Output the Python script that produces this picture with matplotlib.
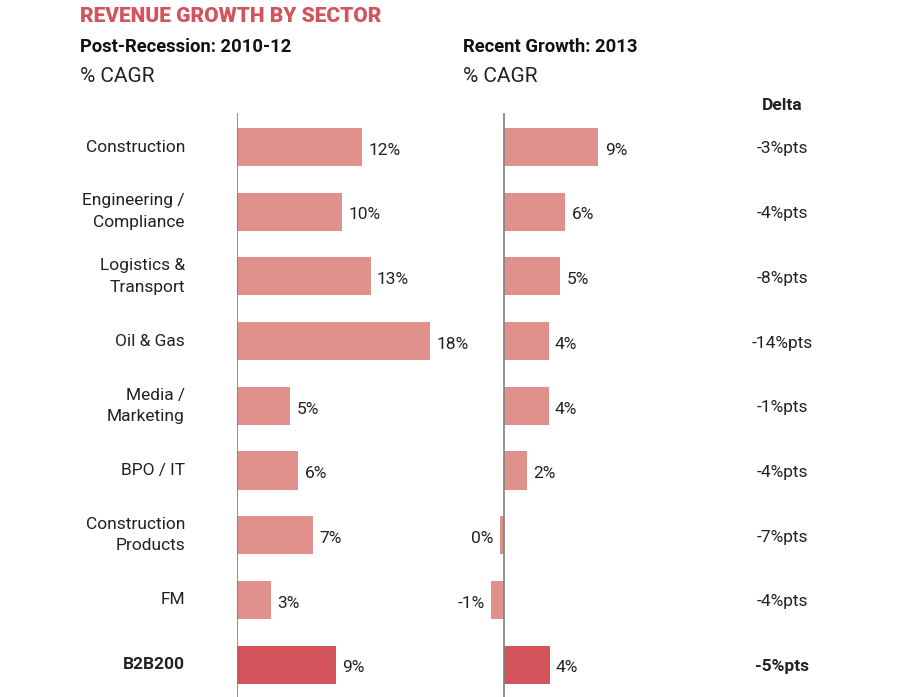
import numpy as np
import matplotlib.pyplot as plt

plt.rcParams['font.family'] = ['Roboto', 'DejaVu Sans']

# Data
sectors = ['Construction', 'Engineering /\nCompliance', 'Logistics &\nTransport', 'Oil & Gas',
           'Media /\nMarketing', 'BPO / IT', 'Construction\nProducts', 'FM', 'B2B200']
post_recession = [11.8, 9.9, 12.6, 18.2, 5.0, 5.8, 7.2, 3.2, 9.3]
recent_growth = [8.9, 5.8, 5.3, 4.2, 4.2, 2.2, -0.4, -1.2, 4.3]

light = '#e0918b'
dark = '#d4545c'
colors = [light] * (len(sectors) - 1) + [dark]

fig = plt.figure(figsize=(9, 6.97), dpi=100)
px = 1 / 900.0
ax_top = (697 - 113) / 697.0
scale = 10.6  # pixels per percentage point

y = np.arange(len(sectors))
ylim = (8.5, -0.525)


def panel(x_axis_px, left_px, right_px, values):
    ax = fig.add_axes([left_px * px, 0, (right_px - left_px) * px, ax_top])
    ax.set_xlim((left_px - x_axis_px) / scale, (right_px - x_axis_px) / scale)
    ax.set_ylim(ylim)
    ax.barh(y, values, height=0.59, color=colors)
    ax.axvline(0, color='#808080', lw=1.2)
    for i, v in enumerate(values):
        lab = f"{int(round(v))}%"
        if v >= 0:
            ax.text(v + 0.6, i + 0.05, lab, va='center', ha='left', fontsize=12.5, color='#222222')
        else:
            ax.text(v - 0.6, i + 0.05, lab, va='center', ha='right', fontsize=12.5, color='#222222')
    ax.axis('off')
    return ax


panel(237, 237, 470, post_recession)
panel(504, 440, 700, recent_growth)

# sector labels
for i, s in enumerate(sectors):
    yy = 1 - (147 + 64.7 * i) / 697.0
    fig.text(185 * px, yy, s, ha='right', va='center', fontsize=12.5,
             fontweight='bold' if s == 'B2B200' else 'normal', color='#222222',
             linespacing=1.55)

# delta column
fig.text(782 * px, 1 - 106 / 697.0, 'Delta', ha='center', va='center', fontsize=12.5,
         fontweight='bold', color='#222222')
for i in range(len(sectors)):
    d = int(round(recent_growth[i])) - int(round(post_recession[i]))
    yy = 1 - (149 + 64.7 * i) / 697.0
    fig.text(782 * px, yy, f"{d}%pts", ha='center', va='center', fontsize=12.5,
             fontweight='bold' if i == len(sectors) - 1 else 'normal', color='#222222')

# titles
fig.text(80 * px, 1 - 16 / 697.0, 'REVENUE GROWTH BY SECTOR', ha='left', va='center',
         fontsize=15, fontweight='heavy', color='#d4545c')
fig.text(80 * px, 1 - 47 / 697.0, 'Post-Recession: 2010-12', ha='left', va='center',
         fontsize=13.2, fontweight='bold', color='#111111')
fig.text(80 * px, 1 - 76 / 697.0, '% CAGR', ha='left', va='center', fontsize=15, color='#222222')
fig.text(463 * px, 1 - 47 / 697.0, 'Recent Growth: 2013', ha='left', va='center',
         fontsize=13.2, fontweight='bold', color='#111111')
fig.text(463 * px, 1 - 76 / 697.0, '% CAGR', ha='left', va='center', fontsize=15, color='#222222')

fig.savefig('out.png', dpi=100)
